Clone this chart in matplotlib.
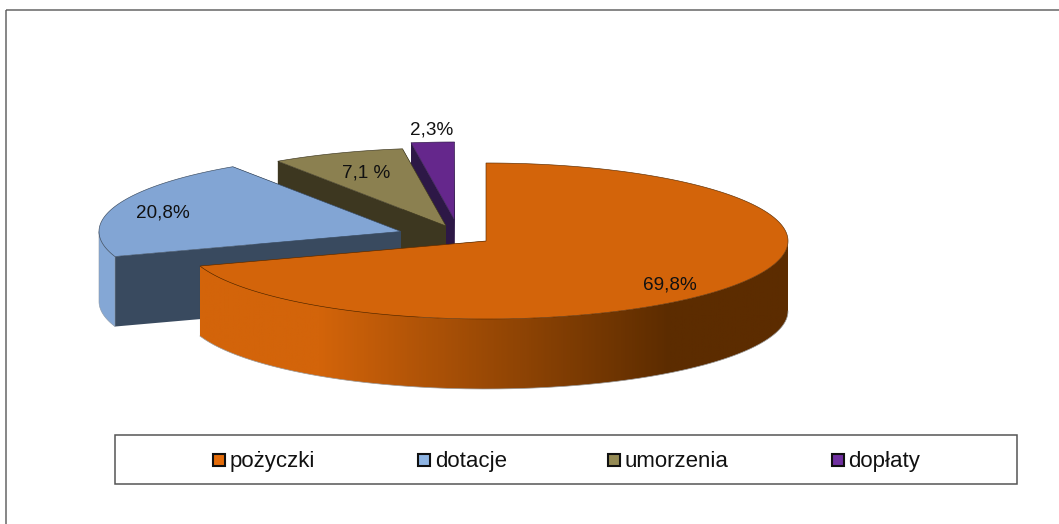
import numpy as np
import matplotlib
matplotlib.use("Agg")
import matplotlib.pyplot as plt
from matplotlib.colors import LinearSegmentedColormap
from matplotlib.patches import Polygon, Rectangle

# ---- data ----
categories = ["pożyczki", "dotacje", "umorzenia", "dopłaty"]
shares = [69.8, 20.8, 7.1, 2.3]
value_labels = ["69,8%", "20,8%", "7,1 %", "2,3%"]

# ---- style / layout ----
top_colors = ["#D3640A", "#82A5D4", "#8B8050", "#65278C"]
cut_colors = ["#5C2C00", "#394A5F", "#3D3720", "#2D1846"]
legend_colors = ["#E46C0A", "#8EB4E3", "#948A54", "#7030A0"]
wall_colors = ["#D3640A", "#84A7D5", "#8B8050", "#65278C"]
offsets = [(0, 0), (-85, -9.5), (-40, -15), (-31.5, -21)]
label_pos = [(670, 285), (163, 213), (366, 173), (432, 130)]
legend_swatch_x = [213, 418, 608, 832]
legend_text_x = [229.5, 435, 625, 848]

CX, CY, RX, RY, DEPTH = 486, 241, 302, 78, 70
W, H = 1059, 524

plt.rcParams["font.family"] = ["Liberation Sans", "DejaVu Sans"]
fig = plt.figure(figsize=(W / 100, H / 100), dpi=100)
ax = fig.add_axes([0, 0, 1, 1])
ax.set_xlim(0, W)
ax.set_ylim(H, 0)
ax.axis("off")

# outer frame, running off the right and bottom edges
ax.add_patch(Rectangle((6, 10), W + 20, H + 20, fill=False, ec="#666666", lw=1.1, zorder=0))


def arc(a0, a1, dx, dy, n=300):
    """Ellipse arc; angles in degrees, clockwise from the top."""
    t = np.radians(np.linspace(a0, a1, n))
    return np.column_stack([CX + dx + RX * np.sin(t), CY + dy - RY * np.cos(t)])


starts = np.concatenate([[0], np.cumsum(shares)[:-1]]) * 3.6
ends = np.cumsum(shares) * 3.6
orange_cmap = LinearSegmentedColormap.from_list("wall", [(0, "#D3640A"), (0.2, "#D3640A"), (0.8, "#5C2C00"), (1, "#5C2C00")])

# painter's order: farthest slice first
for i in range(len(shares) - 1, -1, -1):
    z = 10 + (len(shares) - i) * 5
    a0, a1 = starts[i], ends[i]
    dx, dy = offsets[i]
    apex = np.array([CX + dx, CY + dy])
    rim = arc(a0, a1, dx, dy)

    # radial cut faces
    for edge in (rim[0], rim[-1]):
        face = np.array([apex, edge, edge + [0, DEPTH], apex + [0, DEPTH]])
        ax.add_patch(Polygon(face, closed=True, fc=cut_colors[i], ec="none", zorder=z))

    # outer wall, front half of the ellipse only
    lo, hi = max(a0, 90), min(a1, 270)
    if lo < hi:
        front = arc(lo, hi, dx, dy)
        wall = np.vstack([front, (front + [0, DEPTH])[::-1]])
        if i == 0:
            poly = Polygon(wall, closed=True, fc="none", ec="none", zorder=z + 1)
            ax.add_patch(poly)
            xmin, xmax = wall[:, 0].min(), wall[:, 0].max()
            grad = np.linspace(0, 1, 600)[None, :]
            im = ax.imshow(grad, extent=[xmin, xmax, wall[:, 1].max(), wall[:, 1].min()],
                           aspect="auto", cmap=orange_cmap, zorder=z + 1)
            im.set_clip_path(poly)
            ax.set_xlim(0, W)
            ax.set_ylim(H, 0)
            ax.plot(*(front + [0, DEPTH]).T, color="#9A9A9A", lw=0.5, zorder=z + 2)
        else:
            ax.add_patch(Polygon(wall, closed=True, fc=wall_colors[i], ec="#8C99A8", lw=0.4, zorder=z + 1))

    # top face
    top = np.vstack([apex, rim])
    ax.add_patch(Polygon(top, closed=True, fc=top_colors[i], ec=cut_colors[i], lw=0.45, zorder=z + 3))

    ax.text(*label_pos[i], value_labels[i], ha="center", va="center", fontsize=13.6,
            color="#111111", zorder=60)

# legend box
ax.add_patch(Rectangle((114.5, 434.5), 902.5, 49.5, fc="white", ec="#555555", lw=1.1, zorder=50))
for name, color, sx, tx in zip(categories, legend_colors, legend_swatch_x, legend_text_x):
    ax.add_patch(Rectangle((sx, 453.5), 12, 12, fc=color, ec="#111111", lw=1.5, zorder=55))
    ax.text(tx, 461.5, name, ha="left", va="center", fontsize=16, color="#111111", zorder=60)

fig.savefig("out.png", dpi=100, facecolor="white")
